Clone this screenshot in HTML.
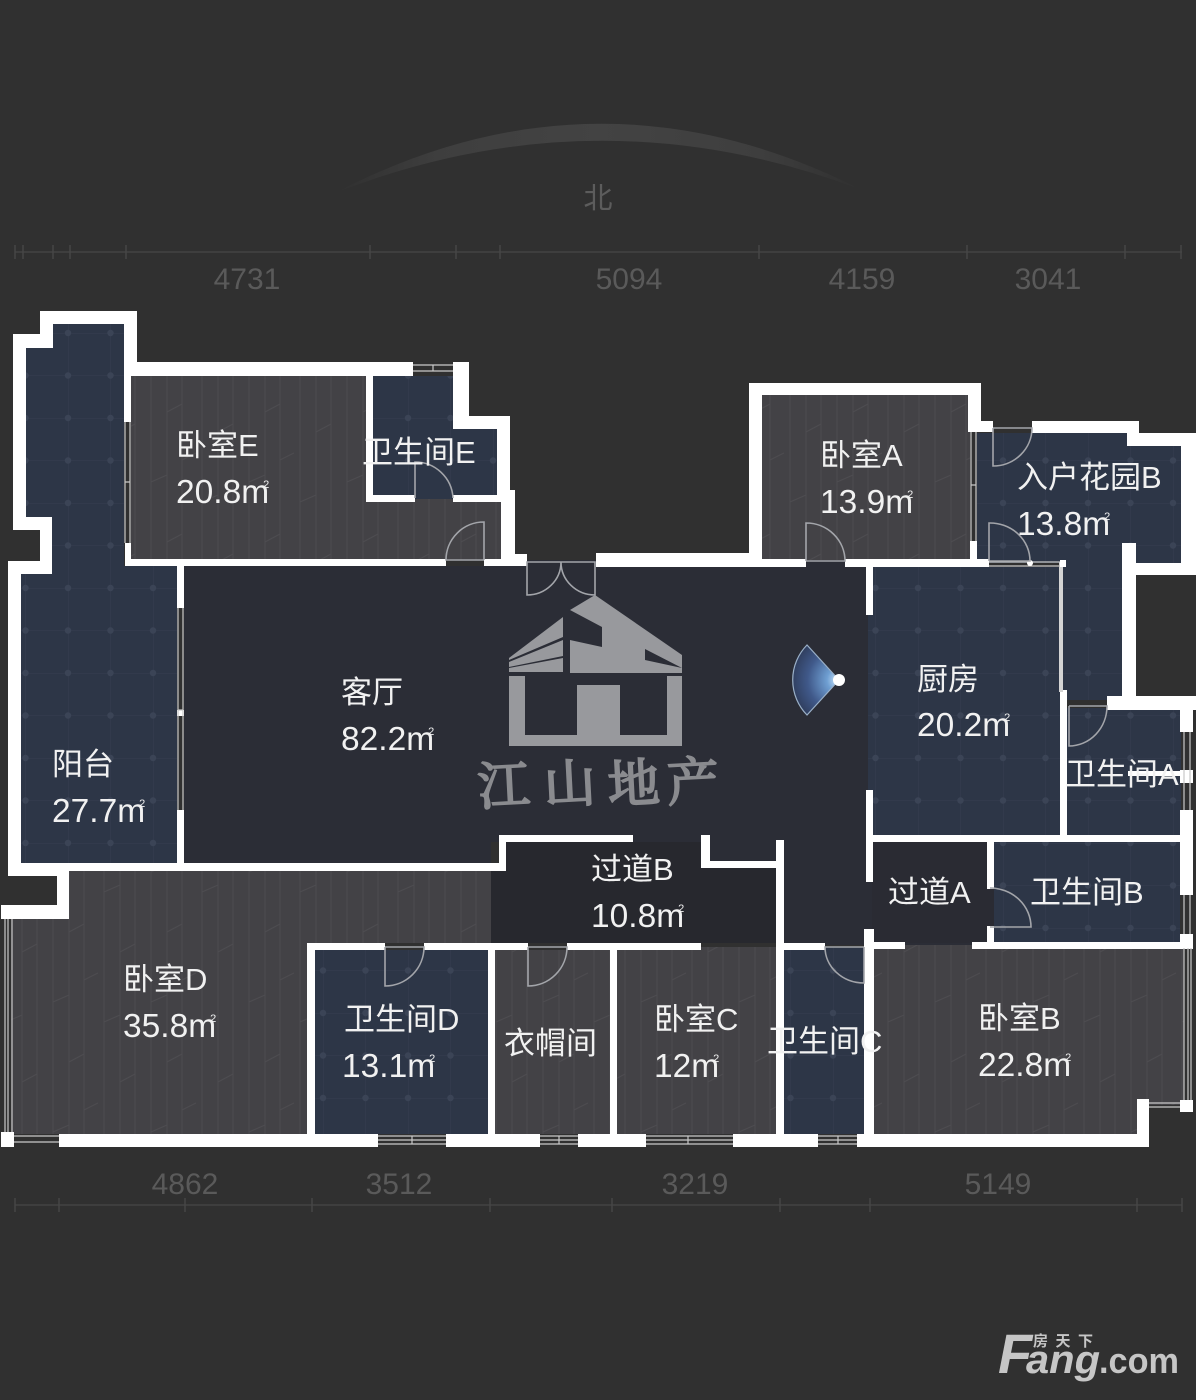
<!DOCTYPE html>
<html lang="zh">
<head>
<meta charset="utf-8">
<title>户型图</title>
<style>
html,body{margin:0;padding:0;background:#303030;width:1196px;height:1400px;overflow:hidden}
svg{display:block}
.l{font-family:"Liberation Sans","Noto Sans CJK SC",sans-serif;font-size:31px;fill:#f1f1f1}
.n{font-size:33.5px}
.s{font-size:11px}
.dim{font-family:"Liberation Sans",sans-serif;font-size:30px;fill:#5a5a5a;text-anchor:middle}
.door{fill:none;stroke:#a3a5aa;stroke-width:1.6}
.win{stroke:#c9c9c9;stroke-width:1.2;fill:none}
</style>
</head>
<body>
<svg width="1196" height="1400" viewBox="0 0 1196 1400" xmlns="http://www.w3.org/2000/svg">
<defs>
<pattern id="tile" patternUnits="userSpaceOnUse" x="68" y="333" width="42.5" height="42.5">
<rect width="42.5" height="42.5" fill="#2d3647"/>
<path d="M0 0H42.5M0 0V42.5" stroke="#363e50" stroke-width="1"/>
<circle cx="0" cy="0" r="3.2" fill="#3b4456"/><circle cx="42.5" cy="0" r="3.2" fill="#3b4456"/>
<circle cx="0" cy="42.5" r="3.2" fill="#3b4456"/><circle cx="42.5" cy="42.5" r="3.2" fill="#3b4456"/>
</pattern>
<pattern id="wood" patternUnits="userSpaceOnUse" x="0" y="0" width="98" height="130">
<rect width="98" height="130" fill="#434246"/>
<path d="M6 0V130M22 0V130M37 0V130M53 0V130M69 0V130M84 0V130" stroke="#4d4c50" stroke-width="1"/>
<path d="M22 42L37 34M53 92L69 85M69 22L84 14M6 112L22 105M84 70L98 63" stroke="#4d4c50" stroke-width="1"/>
</pattern>
<radialGradient id="fan" gradientUnits="userSpaceOnUse" cx="839" cy="680" r="48">
<stop offset="0" stop-color="#d5ecff"/>
<stop offset=".25" stop-color="#6f9fd2"/>
<stop offset=".65" stop-color="#40598a"/>
<stop offset="1" stop-color="#2f3d5c"/>
</radialGradient>
<linearGradient id="arc" gradientUnits="userSpaceOnUse" x1="335" y1="0" x2="862" y2="0">
<stop offset="0" stop-color="#424242" stop-opacity="0"/>
<stop offset=".2" stop-color="#424242" stop-opacity=".8"/>
<stop offset=".5" stop-color="#434343"/>
<stop offset=".8" stop-color="#424242" stop-opacity=".8"/>
<stop offset="1" stop-color="#424242" stop-opacity="0"/>
</linearGradient>
</defs>

<rect width="1196" height="1400" fill="#303030"/>

<!-- compass arc -->
<path d="M335 193Q598 56 862 190Q598 90 335 193Z" fill="url(#arc)"/>
<text x="598" y="208" text-anchor="middle" font-family="'Liberation Sans','Noto Sans CJK SC',sans-serif" font-size="29" fill="#5c5c5c">北</text>

<!-- top dimensions -->
<path d="M15 252H1182" stroke="#3e3e3e" stroke-width="2"/>
<path d="M15 245V259M23 245V259M53 245V259M70 245V259M126 245V259M370 245V259M456 245V259M500 245V259M759 245V259M967 245V259M1125 245V259M1181 245V259" stroke="#464646" stroke-width="1.5"/>
<text class="dim" x="247" y="289">4731</text>
<text class="dim" x="629" y="289">5094</text>
<text class="dim" x="862" y="289">4159</text>
<text class="dim" x="1048" y="289">3041</text>

<!-- bottom dimensions -->
<path d="M15 1205H1182" stroke="#3e3e3e" stroke-width="2"/>
<path d="M15 1198V1212M59 1198V1212M185 1198V1212M312 1198V1212M490 1198V1212M612 1198V1212M780 1198V1212M870 1198V1212M1137 1198V1212M1182 1198V1212" stroke="#464646" stroke-width="1.5"/>
<text class="dim" x="185" y="1194">4862</text>
<text class="dim" x="399" y="1194">3512</text>
<text class="dim" x="695" y="1194">3219</text>
<text class="dim" x="998" y="1194">5149</text>

<!-- rooms -->
<path d="M596 560H876V842H994V945H776V861H701V842H491V863H184V566H527V560Z" fill="#2b2d36"/>
<path d="M491 871H499V842H701V868H776V943H491Z" fill="#27282e"/>
<rect x="872" y="842" width="122" height="101" fill="#2a2b33"/>

<!-- wood -->
<path d="M131 376H373V495H501V560H131Z" fill="url(#wood)"/>
<rect x="762" y="395" width="208" height="165" fill="url(#wood)"/>
<path d="M69 871H491V943H307V1134H11V915H69Z" fill="url(#wood)"/>
<rect x="495" y="950" width="115" height="184" fill="url(#wood)"/>
<rect x="617" y="947" width="159" height="187" fill="url(#wood)"/>
<path d="M874 945H1184V1105H1149V1134H874Z" fill="url(#wood)"/>

<!-- tile -->
<path d="M53 324H124V566H177V863H21V574H52V517H26V348H53Z" fill="url(#tile)"/>
<path d="M373 376H455V429H497V495H453V499H415V495H373Z" fill="url(#tile)"/>
<path d="M977 433H1127V446H1181V563H1122V700H1063V563H977Z" fill="url(#tile)"/>
<rect x="868" y="567" width="192" height="268" fill="url(#tile)"/>
<rect x="1067" y="708" width="114" height="127" fill="url(#tile)"/>
<rect x="994" y="842" width="186" height="101" fill="url(#tile)"/>
<rect x="784" y="947" width="80" height="187" fill="url(#tile)"/>
<rect x="315" y="950" width="173" height="184" fill="url(#tile)"/>

<!-- walls -->
<g fill="#fff">
<!-- balcony -->
<rect x="40" y="311" width="97" height="13"/>
<rect x="124" y="311" width="13" height="65"/>
<rect x="40" y="311" width="13" height="37"/>
<rect x="13" y="334" width="40" height="14"/>
<rect x="13" y="334" width="13" height="196"/>
<rect x="13" y="517" width="39" height="13"/>
<rect x="40" y="517" width="12" height="57"/>
<rect x="8" y="561" width="44" height="13"/>
<rect x="8" y="561" width="13" height="315"/>
<rect x="8" y="863" width="61" height="13"/>
<rect x="57" y="863" width="12" height="56"/>
<rect x="1" y="905" width="68" height="14"/>
<rect x="8" y="863" width="498" height="8"/>
<rect x="177" y="566" width="7" height="42"/>
<rect x="177" y="710" width="7" height="6"/>
<rect x="177" y="810" width="7" height="53"/>
<!-- bedroom E -->
<rect x="124" y="362" width="289" height="14"/>
<rect x="453" y="362" width="16" height="67"/>
<rect x="455" y="416" width="55" height="13"/>
<rect x="497" y="416" width="13" height="80"/>
<rect x="501" y="490" width="14" height="76"/>
<rect x="501" y="554" width="26" height="12"/>
<rect x="124" y="376" width="7" height="46"/>
<rect x="125" y="543" width="6" height="23"/>
<rect x="125" y="559" width="321" height="7"/>
<rect x="484" y="559" width="43" height="7"/>
<rect x="366" y="376" width="7" height="126"/>
<rect x="366" y="495" width="49" height="7"/>
<rect x="453" y="495" width="48" height="7"/>
<!-- north right -->
<rect x="596" y="553" width="153" height="14"/>
<rect x="749" y="383" width="232" height="12"/>
<rect x="749" y="383" width="13" height="184"/>
<rect x="968" y="383" width="13" height="49"/>
<rect x="968" y="421" width="25" height="11"/>
<rect x="749" y="559" width="57" height="8"/>
<rect x="845" y="559" width="144" height="8"/>
<rect x="970" y="541" width="7" height="26"/>
<!-- garden -->
<rect x="1032" y="421" width="107" height="12"/>
<rect x="1127" y="421" width="12" height="25"/>
<rect x="1127" y="433" width="69" height="13"/>
<rect x="1181" y="433" width="15" height="142"/>
<rect x="1122" y="563" width="74" height="12"/>
<rect x="1122" y="543" width="14" height="167"/>
<rect x="1107" y="696" width="89" height="14"/>
<rect x="1180" y="696" width="13" height="36"/>
<rect x="1180" y="810" width="13" height="85"/>
<rect x="1180" y="934" width="13" height="14"/>
<rect x="1128" y="771" width="52" height="5"/>
<rect x="1180" y="770" width="13" height="13"/>
<!-- kitchen etc -->
<rect x="866" y="567" width="7" height="48"/>
<rect x="866" y="790" width="7" height="92"/>
<rect x="866" y="835" width="327" height="7"/>
<rect x="1060" y="690" width="7" height="152"/>
<rect x="987" y="842" width="7" height="47"/>
<rect x="987" y="926" width="7" height="23"/>
<rect x="972" y="942" width="221" height="7"/>
<rect x="864" y="942" width="41" height="7"/>
<rect x="864" y="929" width="10" height="217"/>
<!-- central -->
<rect x="499" y="835" width="7" height="36"/>
<rect x="499" y="835" width="134" height="7"/>
<rect x="701" y="835" width="9" height="33"/>
<rect x="701" y="861" width="82" height="7"/>
<rect x="776" y="840" width="8" height="306"/>
<rect x="776" y="943" width="49" height="7"/>
<rect x="307" y="943" width="78" height="7"/>
<rect x="424" y="943" width="104" height="7"/>
<rect x="567" y="943" width="134" height="7"/>
<rect x="307" y="943" width="8" height="191"/>
<rect x="488" y="943" width="7" height="191"/>
<rect x="610" y="943" width="7" height="191"/>
<!-- south -->
<rect x="59" y="1134" width="319" height="13"/>
<rect x="446" y="1134" width="94" height="13"/>
<rect x="578" y="1134" width="68" height="13"/>
<rect x="733" y="1134" width="85" height="13"/>
<rect x="857" y="1134" width="292" height="13"/>
<rect x="1137" y="1099" width="12" height="48"/>
<rect x="1" y="1132" width="13" height="15"/>
<rect x="1180" y="1100" width="13" height="12"/>
</g>
<rect x="1059" y="562" width="4" height="130" fill="#d4d4d4"/>

<!-- windows -->
<g class="win">
<path d="M413 365H453M413 371H453M433 365V371"/>
<path d="M125 422V543M130 422V543M125 482H130"/>
<path d="M178 608V810M183 608V810M178 710H183"/>
<path d="M5 919V1132M8 919V1132M12 919V1132"/>
<path d="M14 1136H59M14 1142H59"/>
<path d="M378 1136H446M378 1140H446M378 1144H446M412 1136V1144"/>
<path d="M540 1136H578M540 1140H578M540 1144H578M559 1136V1144"/>
<path d="M646 1136H733M646 1140H733M646 1144H733M688 1136V1144"/>
<path d="M818 1136H857M818 1140H857M818 1144H857M838 1136V1144"/>
<path d="M971 432V541M976 432V541M971 485H976"/>
<path d="M1184 732V810M1190 732V810M1184 895V934M1190 895V934"/>
<path d="M1184 948V1100M1188 948V1100M1191 948V1100"/>
<path d="M1149 1103H1180M1149 1107H1180"/>
<path d="M989 562H1062M989 566H1062"/>
</g>
<circle cx="1030" cy="563" r="3" fill="#fff"/>
<rect x="1060" y="560" width="6" height="7" fill="#fff"/>

<!-- doors -->
<g class="door">
<path d="M415 498V462A38 38 0 0 1 453 498"/>
<path d="M484 560V522A38 38 0 0 0 446 560H484"/>
<path d="M561 562H527V595A34 33 0 0 0 561 562A34 33 0 0 0 595 595V562H561"/>
<path d="M806 561V523A39 38 0 0 1 845 561H806"/>
<path d="M993 428V466A39 38 0 0 0 1032 428H993"/>
<path d="M989 561V523A40 38 0 0 1 1030 561H989"/>
<path d="M1069 706V746A38 40 0 0 0 1107 706H1069"/>
<path d="M990 927H1031A41 39 0 0 0 990 888"/>
<path d="M864 947V983A39 36 0 0 1 825 947H864"/>
<path d="M385 947V986A39 39 0 0 0 424 947H385"/>
<path d="M528 947V986A39 39 0 0 0 567 947H528"/>
</g>

<!-- logo -->
<g fill="#98999d">
<path d="M570 610L595 595L682 655V668L645 649V660L682 668V673H570V640L602 647V627Z"/>
<path d="M509 658L563 617V637L509 660Z"/>
<path d="M509 662L563 640V656L509 667Z"/>
<path d="M509 668L563 658V672H509Z"/>
<path d="M509 676H525V735H577V685H620V735H667V676H682V746H509Z"/>
</g>
<g font-family="'Noto Serif CJK SC','Noto Sans CJK SC',serif" font-size="52" fill="#8a8b8f" stroke="#8a8b8f" stroke-width="2">
<text x="478" y="804" transform="rotate(-3 503 790)">江</text>
<text x="544" y="802" transform="rotate(-3 569 790)">山</text>
<text x="608" y="802" transform="rotate(-3 633 790)">地</text>
<text x="667" y="800" transform="rotate(-3 693 785)">产</text>
</g>

<!-- view fan -->
<path d="M839 680L807 645A50 50 0 0 0 807 715Z" fill="url(#fan)" stroke="#9ab0c8" stroke-width="1.2"/>
<circle cx="839" cy="680" r="6" fill="#fff"/>

<!-- labels -->
<text class="l" x="176" y="456">卧室E</text>
<text class="l n" x="176" y="503">20.8m<tspan class="s" dx="-6" dy="-15">2</tspan></text>
<text class="l" x="362" y="463">卫生间E</text>
<text class="l" x="820" y="466">卧室A</text>
<text class="l n" x="820" y="513">13.9m<tspan class="s" dx="-6" dy="-15">2</tspan></text>
<text class="l" x="1017" y="488">入户花园B</text>
<text class="l n" x="1017" y="535">13.8m<tspan class="s" dx="-6" dy="-15">2</tspan></text>
<text class="l" x="917" y="690">厨房</text>
<text class="l n" x="917" y="736">20.2m<tspan class="s" dx="-6" dy="-15">2</tspan></text>
<text class="l" x="341" y="703">客厅</text>
<text class="l n" x="341" y="750">82.2m<tspan class="s" dx="-6" dy="-15">2</tspan></text>
<text class="l" x="52" y="775">阳台</text>
<text class="l n" x="52" y="822">27.7m<tspan class="s" dx="-6" dy="-15">2</tspan></text>
<text class="l" x="1065" y="785">卫生间A</text>
<text class="l" x="591" y="880">过道B</text>
<text class="l n" x="591" y="927">10.8m<tspan class="s" dx="-6" dy="-15">2</tspan></text>
<text class="l" x="1030" y="903">卫生间B</text>
<text class="l" x="888" y="903">过道A</text>
<text class="l" x="123" y="990">卧室D</text>
<text class="l n" x="123" y="1037">35.8m<tspan class="s" dx="-6" dy="-15">2</tspan></text>
<text class="l" x="344" y="1030">卫生间D</text>
<text class="l n" x="342" y="1077">13.1m<tspan class="s" dx="-6" dy="-15">2</tspan></text>
<text class="l" x="504" y="1054">衣帽间</text>
<text class="l" x="654" y="1030">卧室C</text>
<text class="l n" x="654" y="1077">12m<tspan class="s" dx="-6" dy="-15">2</tspan></text>
<text class="l" x="767" y="1052">卫生间C</text>
<text class="l" x="978" y="1029">卧室B</text>
<text class="l n" x="978" y="1076">22.8m<tspan class="s" dx="-6" dy="-15">2</tspan></text>

<!-- watermark -->
<g fill="#c6c6c6" font-family="'Liberation Sans',sans-serif" font-weight="700">
<text x="998" y="1373" font-size="56" font-style="italic">F</text>
<text x="1026" y="1373" font-size="40" font-style="italic" textLength="74" lengthAdjust="spacingAndGlyphs">ang</text>
<text x="1099" y="1373" font-size="36" textLength="80" lengthAdjust="spacingAndGlyphs">.com</text>
<text x="1033" y="1346" font-size="15" font-family="'Noto Sans CJK SC',sans-serif" textLength="60">房天下</text>
</g>
</svg>
</body>
</html>
